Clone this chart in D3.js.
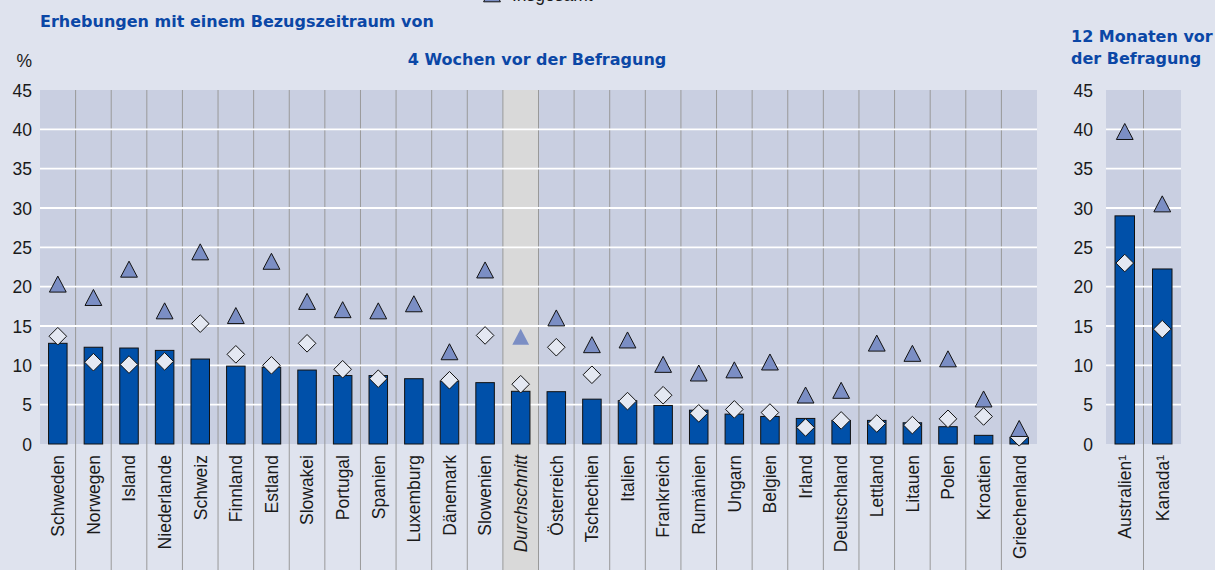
<!DOCTYPE html>
<html>
<head>
<meta charset="utf-8">
<script src="https://cdn.jsdelivr.net/npm/d3@7"></script>
<style>
    body { margin: 0; background: #dfe3ee; }
    svg { display: block; }
    .tick-label { font-family: "Liberation Sans", Arial, sans-serif; font-size: 17.5px; fill: #1a1a1a; }
    .title { font-family: "DejaVu Sans", sans-serif; font-weight: bold; font-size: 16px; fill: #0b47a6; }
</style>
</head>
<body>
<svg id="chart" width="1215" height="570"></svg>
<script>
// 4-week reference period
const countries = ["Schweden", "Norwegen", "Island", "Niederlande", "Schweiz", "Finnland", "Estland",
    "Slowakei", "Portugal", "Spanien", "Luxemburg", "Dänemark", "Slowenien", "Durchschnitt",
    "Österreich", "Tschechien", "Italien", "Frankreich", "Rumänien", "Ungarn", "Belgien", "Irland",
    "Deutschland", "Lettland", "Litauen", "Polen", "Kroatien", "Griechenland"];
const barValues = [12.8, 12.3, 12.2, 11.9, 10.8, 9.9, 9.75, 9.4, 8.7, 8.7, 8.3, 8.0, 7.8, 6.7,
    6.65, 5.7, 5.5, 4.9, 4.3, 3.8, 3.5, 3.25, 3.0, 3.0, 2.7, 2.2, 1.1, 0.85];
const triangleValues = [20.3, 18.6, 22.2, 16.9, 24.4, 16.3, 23.2, 18.1, 17.05, 16.9, 17.8, 11.7, 22.1, 13.6,
    16.0, 12.6, 13.2, 10.1, 9.0, 9.4, 10.4, 6.2, 6.8, 12.8, 11.5, 10.8, 5.7, 1.95];
const diamondValues = [13.7, 10.4, 10.1, 10.5, 15.3, 11.4, 10.0, 12.8, 9.5, 8.3, null, 8.1, 13.8, 7.6,
    12.3, 8.8, 5.45, 6.2, 3.9, 4.4, 4.0, 2.1, 3.0, 2.6, 2.4, 3.2, 3.5, 0.85];

// 12-month reference period
const countries12 = ["Australien¹", "Kanada¹"];
const barValues12 = [29.0, 22.25];
const triangleValues12 = [39.7, 30.5];
const diamondValues12 = [23.0, 14.6];

const yTicks = [0, 5, 10, 15, 20, 25, 30, 35, 40, 45];
const averageName = "Durchschnitt";

const colors = {
    plot: "#c9cfe1",
    average: "#d9d9d9",
    bar: "#0050a9",
    triangle: "#7b8ec4",
    diamond: "#e4e8f2",
    divider: "#999999"
};

let svg = d3.select("#chart");
let plotTop = 90, plotBottom = 444, labelBottom = 570;

let y = d3.scaleLinear().domain([0, 45]).range([plotBottom, plotTop]);

let trianglePath = "M0,-8.2L8.4,7.8L-8.4,7.8Z";
let diamondPath = "M0,-8.8L8.8,0L0,8.8L-8.8,0Z";

function drawPanel(names, bars, triangles, diamonds, x0, x1, axisRight) {
    let x = d3.scaleBand().domain(names).range([x0, x1]).padding(0);
    let bw = x.bandwidth();
    let rows = names.map((n, i) => ({name: n, bar: bars[i], tri: triangles[i], dia: diamonds[i]}));

    let g = svg.append("g");

    g.append("rect")
        .attr("x", x0).attr("y", plotTop)
        .attr("width", x1 - x0).attr("height", plotBottom - plotTop)
        .attr("fill", colors.plot);

    // highlighted average column, runs through the label area too
    g.selectAll(".avg")
        .data(rows.filter(d => d.name === averageName))
        .enter().append("rect")
        .attr("x", d => x(d.name)).attr("y", plotTop)
        .attr("width", bw).attr("height", labelBottom - plotTop)
        .attr("fill", colors.average);

    // dividers between categories
    g.selectAll(".divider")
        .data(names.slice(1))
        .enter().append("line")
        .attr("x1", d => x(d)).attr("x2", d => x(d))
        .attr("y1", plotTop).attr("y2", labelBottom)
        .attr("stroke", colors.divider).attr("stroke-width", 1);

    // white grid lines
    g.selectAll(".grid")
        .data(yTicks.filter(t => t > 0 && t < 45))
        .enter().append("line")
        .attr("x1", x0).attr("x2", x1)
        .attr("y1", d => y(d)).attr("y2", d => y(d))
        .attr("stroke", "#ffffff").attr("stroke-width", 1.8);

    let yAxis = d3.axisLeft(y).tickValues(yTicks).tickSize(0).tickPadding(0);
    let axisG = g.append("g")
        .attr("transform", `translate(${axisRight}, 0)`)
        .call(yAxis);
    axisG.select(".domain").remove();
    axisG.selectAll("text")
        .attr("class", "tick-label")
        .attr("dy", "0.36em");

    g.selectAll(".bar")
        .data(rows)
        .enter().append("rect")
        .attr("x", d => x(d.name) + bw * 0.24)
        .attr("width", bw * 0.52)
        .attr("y", d => y(d.bar))
        .attr("height", d => y(0) - y(d.bar))
        .attr("fill", colors.bar)
        .attr("stroke", "#111").attr("stroke-width", 1);

    g.selectAll(".diamond")
        .data(rows.filter(d => d.dia != null))
        .enter().append("path")
        .attr("d", diamondPath)
        .attr("transform", d => `translate(${x(d.name) + bw / 2}, ${y(d.dia)})`)
        .attr("fill", colors.diamond)
        .attr("stroke", "#111").attr("stroke-width", 1);

    g.selectAll(".triangle")
        .data(rows)
        .enter().append("path")
        .attr("d", trianglePath)
        .attr("transform", d => `translate(${x(d.name) + bw / 2}, ${y(d.tri)})`)
        .attr("fill", colors.triangle)
        .attr("stroke", d => d.name === averageName ? "none" : "#111")
        .attr("stroke-width", 1);

    g.selectAll(".xlabel")
        .data(names)
        .enter().append("text")
        .attr("class", "tick-label")
        .attr("transform", d => `translate(${x(d) + bw / 2}, 455) rotate(-90)`)
        .attr("text-anchor", "end")
        .attr("dy", "0.36em")
        .style("font-style", d => d === averageName ? "italic" : "normal")
        .text(d => d);
}

drawPanel(countries, barValues, triangleValues, diamondValues, 40, 1037, 32);
drawPanel(countries12, barValues12, triangleValues12, diamondValues12, 1106, 1181, 1093);

// titles
svg.append("text").attr("class", "title").attr("x", 40).attr("y", 27)
    .text("Erhebungen mit einem Bezugszeitraum von");
svg.append("text").attr("class", "title").attr("x", 537).attr("y", 65)
    .attr("text-anchor", "middle")
    .text("4 Wochen vor der Befragung");
svg.append("text").attr("class", "title").attr("x", 1071).attr("y", 42)
    .text("12 Monaten vor");
svg.append("text").attr("class", "title").attr("x", 1071).attr("y", 64)
    .text("der Befragung");
svg.append("text").attr("class", "tick-label").attr("x", 32).attr("y", 67)
    .attr("text-anchor", "end").text("%");

// legend row, almost entirely above the visible area (as in the source)
svg.append("path")
    .attr("d", trianglePath)
    .attr("transform", "translate(492, -6)")
    .attr("fill", colors.triangle).attr("stroke", "#111");
svg.append("text").attr("class", "tick-label").attr("x", 512).attr("y", 0.5)
    .text("Insgesamt");
</script>
</body>
</html>
